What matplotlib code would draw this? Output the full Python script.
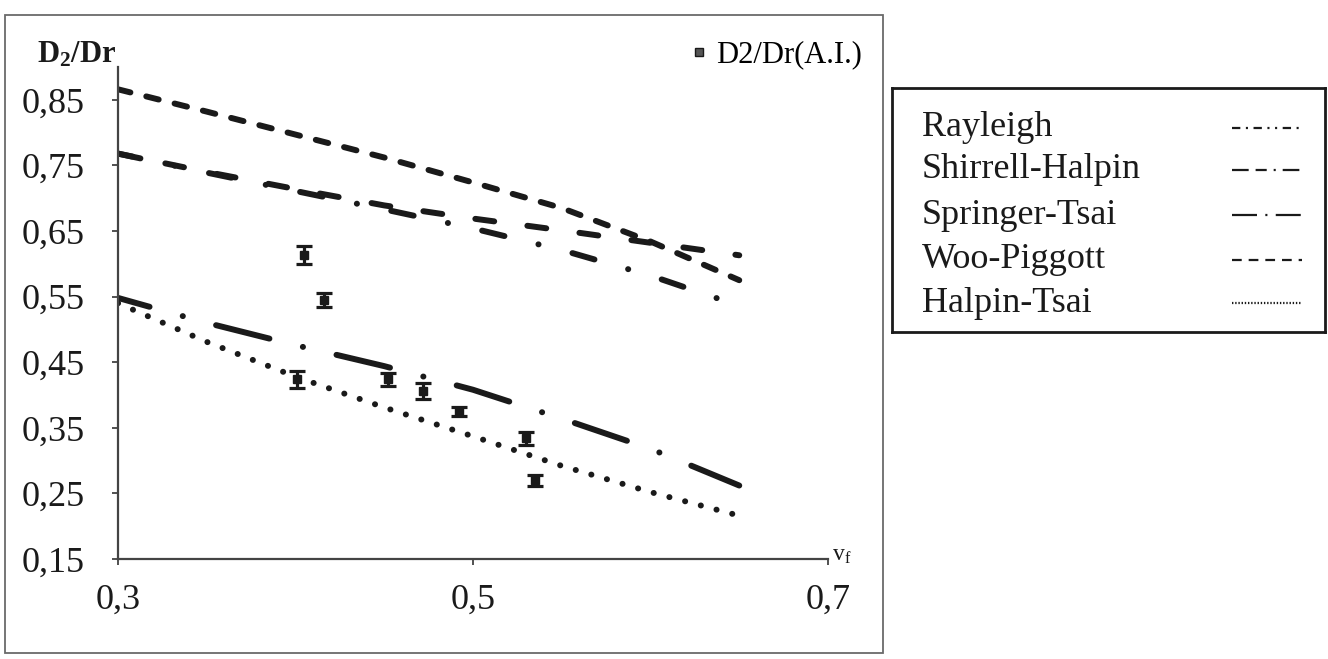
import matplotlib
matplotlib.use("Agg")
import matplotlib.pyplot as plt
import matplotlib.ticker as mticker
from matplotlib.lines import Line2D
from matplotlib.patches import Rectangle

plt.rcParams["font.family"] = ["Liberation Serif", "DejaVu Serif"]
plt.rcParams["mathtext.fontset"] = "custom"
plt.rcParams["mathtext.rm"] = "Liberation Serif"
plt.rcParams["mathtext.it"] = "Liberation Serif:italic"
plt.rcParams["mathtext.bf"] = "Liberation Serif:bold"
plt.rcParams["lines.scale_dashes"] = False

# ---- data ----
vf = [0.30, 0.35, 0.40, 0.45, 0.50, 0.55, 0.60, 0.65]
rayleigh = [0.768, 0.740, 0.714, 0.689, 0.669, 0.651, 0.632, 0.613]
shirrell_halpin = [0.768, 0.739, 0.711, 0.683, 0.654, 0.621, 0.582, 0.536]
springer_tsai = [0.548, 0.510, 0.476, 0.444, 0.408, 0.364, 0.318, 0.262]
woo_piggott = [0.866, 0.832, 0.797, 0.762, 0.724, 0.685, 0.634, 0.575]
halpin_tsai = [0.540, 0.481, 0.428, 0.381, 0.337, 0.292, 0.252, 0.216]

ai_vf = [0.401, 0.405, 0.416, 0.452, 0.472, 0.492, 0.530, 0.535]
ai_d2dr = [0.424, 0.613, 0.545, 0.424, 0.406, 0.375, 0.334, 0.270]
ai_err = [0.013, 0.014, 0.011, 0.010, 0.012, 0.007, 0.010, 0.008]

model_names = ["Rayleigh", "Shirrell-Halpin", "Springer-Tsai", "Woo-Piggott", "Halpin-Tsai"]
y_ticks = [0.15, 0.25, 0.35, 0.45, 0.55, 0.65, 0.75, 0.85]
x_ticks = [0.3, 0.5, 0.7]

W, H = 1328, 659
ink = "#1a1a1a"

# thick curve styles (dash lengths in points)
curve_styles = {
    "Rayleigh": (3, (13.7, 24.1)),
    "Shirrell-Halpin": (0, (16.5, 25.2, 0.1, 25.2)),
    "Springer-Tsai": (16, (39.6, 24.8, 0.1, 24.8)),
    "Woo-Piggott": (0, (9.2, 11.8)),
    "Halpin-Tsai": (0, (0.1, 11.6)),
}
# thin styles for the legend samples
legend_styles = {
    "Rayleigh": (0, (6, 4, 1.5, 4, 6, 4, 1.5, 4, 1.5, 4)),
    "Shirrell-Halpin": (0, (12, 5, 8, 5, 1.5, 5)),
    "Springer-Tsai": (0, (18, 6, 1.5, 6)),
    "Woo-Piggott": (0, (7, 5)),
    "Halpin-Tsai": (0, (1, 1.3)),
}
series = {
    "Rayleigh": rayleigh,
    "Shirrell-Halpin": shirrell_halpin,
    "Springer-Tsai": springer_tsai,
    "Woo-Piggott": woo_piggott,
    "Halpin-Tsai": halpin_tsai,
}

fig = plt.figure(figsize=(W / 100, H / 100), dpi=100)

# outer chart border
fig.patches.append(Rectangle((5 / W, 1 - 653 / H), 878 / W, 638 / H, transform=fig.transFigure,
                             fill=False, ec="#6a6a6a", lw=1.3))

ax = fig.add_axes([118 / W, 1 - 559 / H, 710 / W, (559 - 67) / H])

for name in model_names:
    ax.plot(vf, series[name], color=ink, lw=4.3, linestyle=curve_styles[name],
            dash_capstyle="round", solid_capstyle="round", zorder=2)

ax.errorbar(ai_vf, ai_d2dr, yerr=ai_err, fmt="s", ms=5.5, mfc=ink, mec=ink,
            ecolor=ink, elinewidth=2.3, capsize=6, capthick=2.3, zorder=3)

ax.set_xlim(0.3, 0.7)
ax.set_ylim(0.15, 0.90)
ax.set_xticks(x_ticks)
ax.set_yticks(y_ticks)
ax.xaxis.set_major_formatter(mticker.FuncFormatter(lambda v, p: f"{v:.1f}".replace(".", ",")))
ax.yaxis.set_major_formatter(mticker.FuncFormatter(lambda v, p: f"{v:.2f}".replace(".", ",")))
ax.tick_params(axis="both", labelsize=26, colors="#333333", labelcolor=ink, length=4, width=1.2)
ax.tick_params(axis="y", pad=20)
ax.tick_params(axis="x", pad=14)
for s in ["top", "right"]:
    ax.spines[s].set_visible(False)
for s in ["left", "bottom"]:
    ax.spines[s].set_color("#444444")
    ax.spines[s].set_linewidth(1.6)

ai_handle = Line2D([], [], marker="s", ls="none", ms=6, mfc="#555555", mec=ink, mew=1)
ax.legend([ai_handle], ["D2/Dr(A.I.)"], loc="center left", bbox_to_anchor=(675 / W, 1 - 55 / H),
          bbox_transform=fig.transFigure, frameon=False, fontsize=22, handlelength=0.6,
          handletextpad=0.25, borderpad=0)

fig.text(77 / W, 1 - 55 / H, r"$\mathbf{D_2/Dr}$", ha="center", va="center", fontsize=22, color=ink)
fig.text(832 / W, 1 - 556 / H, r"$\mathrm{v_f}$", ha="left", va="center", fontsize=17, color=ink)

# model legend box at the right
lax = fig.add_axes([892 / W, 1 - 332 / H, 433 / W, 244 / H])
lax.set_xlim(0, 433)
lax.set_ylim(244, 0)
lax.set_xticks([])
lax.set_yticks([])
for s in lax.spines.values():
    s.set_color(ink)
    s.set_linewidth(2)
row_y = [40, 82, 127, 172, 215]
for name, yy in zip(model_names, row_y):
    lax.text(30, yy, name, ha="left", va="center", fontsize=26, color=ink)
    lax.plot([340, 410], [yy, yy], color=ink, lw=1.6, linestyle=legend_styles[name])

fig.savefig("out.png", dpi=100)
